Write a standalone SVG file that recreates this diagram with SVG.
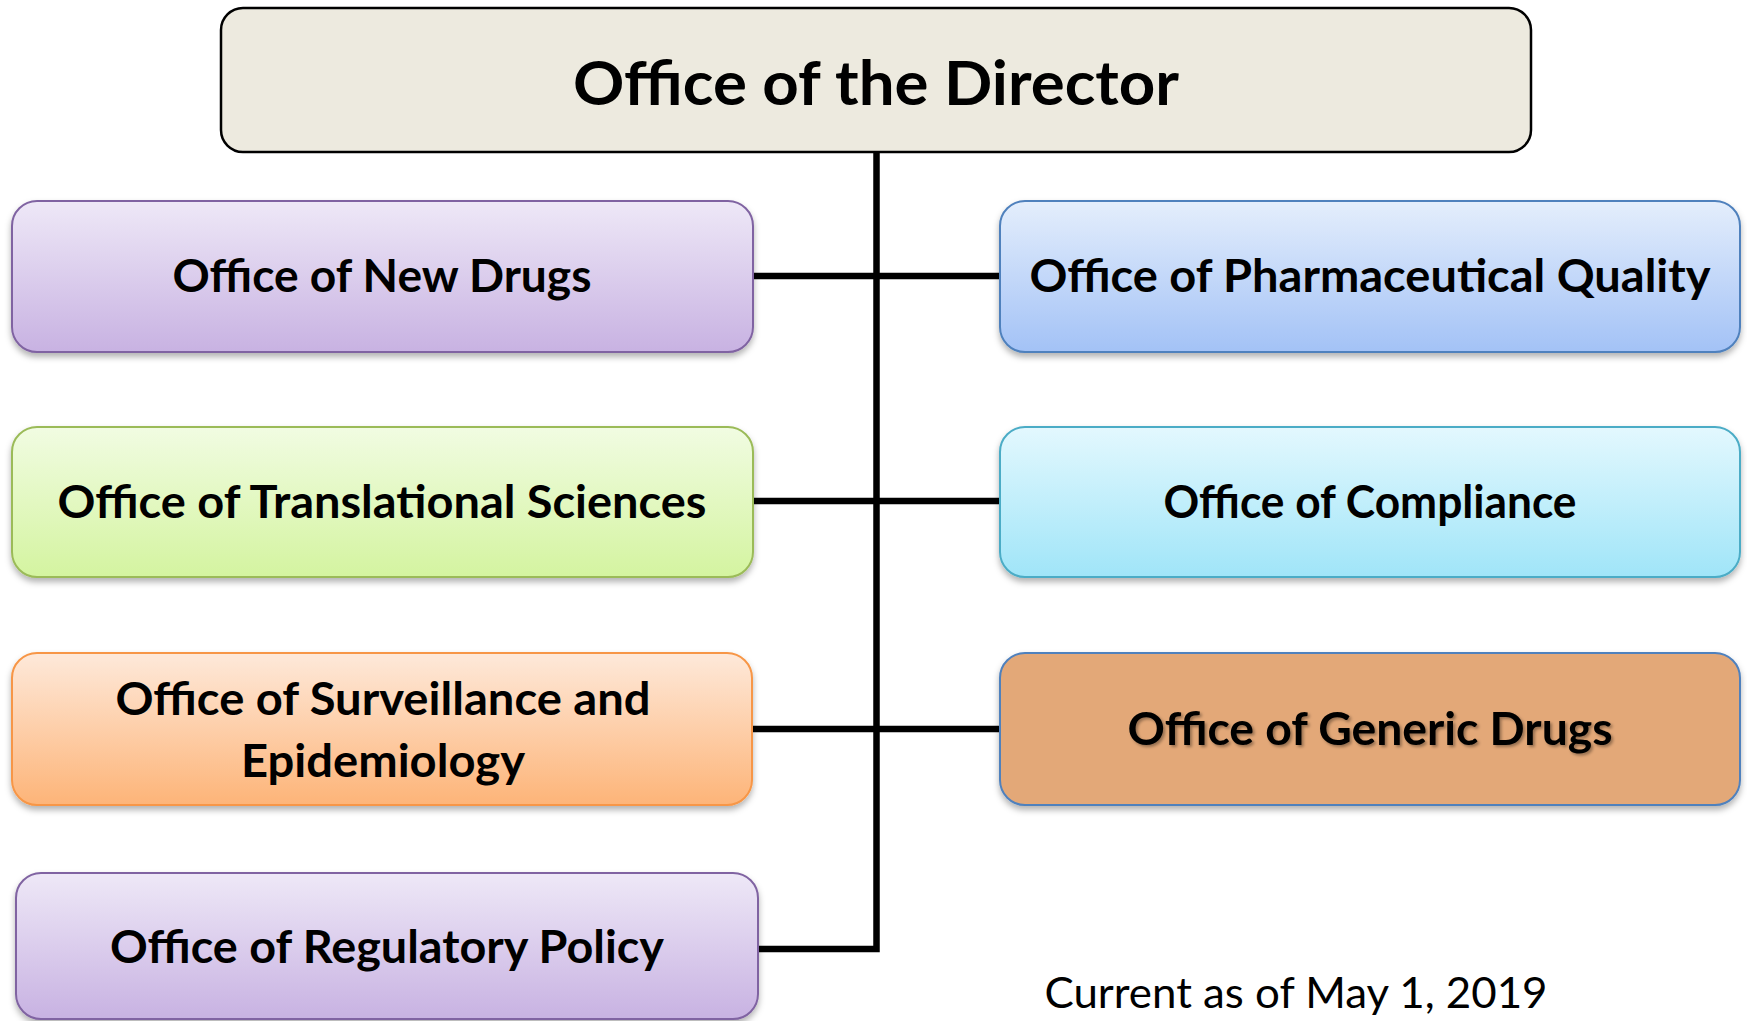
<svg xmlns="http://www.w3.org/2000/svg" width="1747" height="1021" viewBox="0 0 1747 1021">
<defs>
<linearGradient id="gPurple" x1="0" y1="0" x2="0" y2="1"><stop offset="0" stop-color="#EEE8F7"/><stop offset="1" stop-color="#C8B2E2"/></linearGradient>
<linearGradient id="gGreen" x1="0" y1="0" x2="0" y2="1"><stop offset="0" stop-color="#F1FCE2"/><stop offset="1" stop-color="#D4F4A0"/></linearGradient>
<linearGradient id="gOrange" x1="0" y1="0" x2="0" y2="1"><stop offset="0" stop-color="#FEE9DA"/><stop offset="1" stop-color="#FDB478"/></linearGradient>
<linearGradient id="gBlue" x1="0" y1="0" x2="0" y2="1"><stop offset="0" stop-color="#E4EEFC"/><stop offset="1" stop-color="#A3C2F6"/></linearGradient>
<linearGradient id="gCyan" x1="0" y1="0" x2="0" y2="1"><stop offset="0" stop-color="#E3F8FE"/><stop offset="1" stop-color="#A0E5F8"/></linearGradient>
<filter id="shadow" x="-5%" y="-10%" width="110%" height="125%"><feDropShadow dx="0" dy="4" stdDeviation="3" flood-color="#000" flood-opacity="0.3"/></filter>
<filter id="tshadow" x="-5%" y="-20%" width="110%" height="150%"><feDropShadow dx="2" dy="2" stdDeviation="1.5" flood-color="#000" flood-opacity="0.35"/></filter>
</defs>
<style>
.lbl{font-family:Lato,"Open Sans","Liberation Sans",sans-serif;font-weight:bold;fill:#000;text-anchor:middle}
.box{stroke-width:2}
.conn{stroke:#000;stroke-width:6.5;fill:none}
</style>
<g id="connectors">
<path class="conn" d="M876.5,152 V949 H758"/>
<path class="conn" d="M753,276 H1000"/>
<path class="conn" d="M753,501 H1000"/>
<path class="conn" d="M752,729 H1000"/>
</g>
<g id="director">
<rect x="221" y="8" width="1310" height="144" rx="22" fill="#EDEADF" stroke="#000" stroke-width="2.5"/>
<text class="lbl" x="876" y="105" font-size="62" textLength="606" lengthAdjust="spacingAndGlyphs">Office of the Director</text>
</g>
<g id="new-drugs">
<rect class="box" x="12" y="201" width="741" height="151" rx="25" fill="url(#gPurple)" stroke="#8064A2" filter="url(#shadow)"/>
<text class="lbl" x="382" y="292" font-size="45" textLength="419" lengthAdjust="spacingAndGlyphs">Office of New Drugs</text>
</g>
<g id="translational">
<rect class="box" x="12" y="427" width="741" height="150" rx="25" fill="url(#gGreen)" stroke="#9BBB59" filter="url(#shadow)"/>
<text class="lbl" x="382" y="518" font-size="45" textLength="649" lengthAdjust="spacingAndGlyphs">Office of Translational Sciences</text>
</g>
<g id="surveillance">
<rect class="box" x="12" y="653" width="740" height="152" rx="25" fill="url(#gOrange)" stroke="#F79646" filter="url(#shadow)"/>
<text class="lbl" x="383" y="715" font-size="45" textLength="535" lengthAdjust="spacingAndGlyphs">Office of Surveillance and</text>
<text class="lbl" x="383" y="777" font-size="45" textLength="284" lengthAdjust="spacingAndGlyphs">Epidemiology</text>
</g>
<g id="regulatory">
<rect class="box" x="16" y="873" width="742" height="146" rx="25" fill="url(#gPurple)" stroke="#8064A2" filter="url(#shadow)"/>
<text class="lbl" x="387" y="963" font-size="45" textLength="554" lengthAdjust="spacingAndGlyphs">Office of Regulatory Policy</text>
</g>
<g id="pharma-quality">
<rect class="box" x="1000" y="201" width="740" height="151" rx="25" fill="url(#gBlue)" stroke="#4F81BD" filter="url(#shadow)"/>
<text class="lbl" x="1370" y="292" font-size="45" textLength="681" lengthAdjust="spacingAndGlyphs">Office of Pharmaceutical Quality</text>
</g>
<g id="compliance">
<rect class="box" x="1000" y="427" width="740" height="150" rx="25" fill="url(#gCyan)" stroke="#4BACC6" filter="url(#shadow)"/>
<text class="lbl" x="1370" y="518" font-size="45" textLength="413" lengthAdjust="spacingAndGlyphs">Office of Compliance</text>
</g>
<g id="generic">
<rect class="box" x="1000" y="653" width="740" height="152" rx="25" fill="#E3A878" stroke="#4F81BD" filter="url(#shadow)"/>
<text class="lbl" x="1370" y="745" font-size="45" textLength="485" lengthAdjust="spacingAndGlyphs" filter="url(#tshadow)">Office of Generic Drugs</text>
</g>
<text x="1296" y="1008" font-family="Lato,'Open Sans','Liberation Sans',sans-serif" font-size="43" text-anchor="middle" fill="#000" textLength="503" lengthAdjust="spacingAndGlyphs">Current as of May 1, 2019</text>
</svg>
